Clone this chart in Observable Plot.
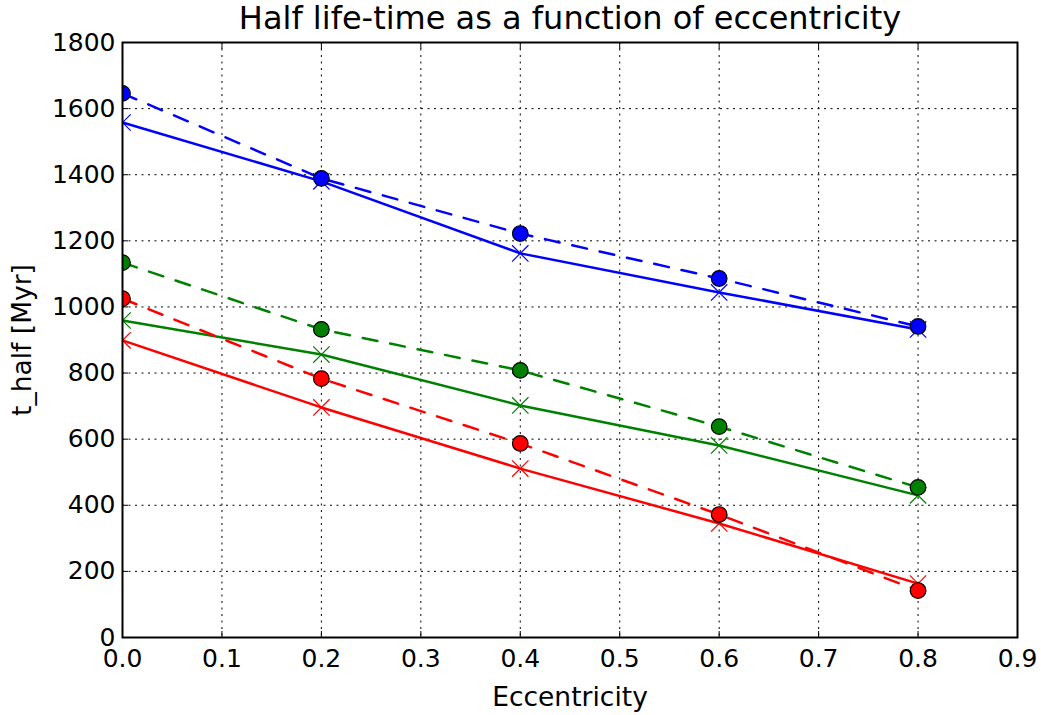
<!DOCTYPE html>
<html><head><meta charset="utf-8">
<script src="https://cdn.jsdelivr.net/npm/d3@7"></script>
<script src="https://cdn.jsdelivr.net/npm/@observablehq/plot@0.6"></script>
<style>body{margin:0;background:#fff} #chart svg{font-family:"DejaVu Sans",sans-serif}</style>
</head><body><div id="chart"></div>
<script>
// Data
const eccentricity = [0, 0.2, 0.4, 0.6, 0.8];
const blueCross   = [1558, 1380, 1162, 1044, 932];
const blueCircle  = [1646, 1389, 1222, 1086, 941];
const greenCross  = [959, 856, 702, 581, 430];
const greenCircle = [1134, 932, 808, 638, 454];
const redCross    = [899, 696, 511, 345, 163];
const redCircle   = [1025, 783, 587, 372, 142];
const xTicks = [0, 0.1, 0.2, 0.3, 0.4, 0.5, 0.6, 0.7, 0.8, 0.9];
const yTicks = [0, 200, 400, 600, 800, 1000, 1200, 1400, 1600, 1800];
const title = "Half life-time as a function of eccentricity";
const xLabel = "Eccentricity";
const yLabel = "t_half [Myr]";

const colors = {blue: "#0000ff", green: "#008000", red: "#ff0000"};
function rows(vals, c) { return vals.map((v, i) => ({e: eccentricity[i], v, c: colors[c], s: c})); }
const cross = [...rows(blueCross, "blue"), ...rows(greenCross, "green"), ...rows(redCross, "red")];
const circ = [...rows(blueCircle, "blue"), ...rows(greenCircle, "green"), ...rows(redCircle, "red")];

const grid = {stroke: "black", strokeOpacity: 1, strokeWidth: 1, strokeDasharray: "2,4.5"};

const chart = Plot.plot({
  width: 1041, height: 715,
  marginLeft: 122, marginRight: 24, marginTop: 42, marginBottom: 78,
  style: {fontFamily: "DejaVu Sans", fontSize: "25px", color: "black", background: "white"},
  x: {domain: [0, 0.9]},
  y: {domain: [0, 1800]},
  color: {type: "identity"},
  marks: [
    Plot.gridX(xTicks, grid),
    Plot.gridY(yTicks, grid),
    Plot.line(cross, {x: "e", y: "v", z: "s", stroke: "c", strokeWidth: 2.5, clip: true}),
    Plot.line(circ, {x: "e", y: "v", z: "s", stroke: "c", strokeWidth: 2.5, strokeDasharray: "15,13", clip: true}),
    Plot.dot(cross, {x: "e", y: "v", stroke: "c", symbol: "times", r: 7.5, strokeWidth: 1.2, clip: true}),
    Plot.dot(circ, {x: "e", y: "v", fill: "c", stroke: "black", r: 7.8, strokeWidth: 1.2, clip: true}),
    Plot.axisX(xTicks, {anchor: "bottom", tickSize: -6, tickPadding: 18, tickFormat: d => d.toFixed(1), fontSize: 25, label: null}),
    Plot.axisX(xTicks, {anchor: "top", tickSize: -6, tickFormat: () => "", label: null}),
    Plot.axisY(yTicks, {anchor: "left", tickSize: -6, tickPadding: 13, tickFormat: d => String(d), fontSize: 25, label: null}),
    Plot.axisY(yTicks, {anchor: "right", tickSize: -6, tickFormat: () => "", label: null}),
    Plot.frame({stroke: "black", strokeWidth: 2}),
    Plot.text([title], {frameAnchor: "top", dy: -24, fontSize: 32, lineAnchor: "middle", textAnchor: "middle", fill: "black"}),
    Plot.text([xLabel], {frameAnchor: "bottom", dy: 60, fontSize: 26.5, lineAnchor: "middle", textAnchor: "middle", fill: "black"}),
    Plot.text([yLabel], {frameAnchor: "left", dx: -100, rotate: -90, fontSize: 26.5, lineAnchor: "middle", textAnchor: "middle", fill: "black"})
  ]
});
document.getElementById("chart").appendChild(chart);
</script>
</body></html>
